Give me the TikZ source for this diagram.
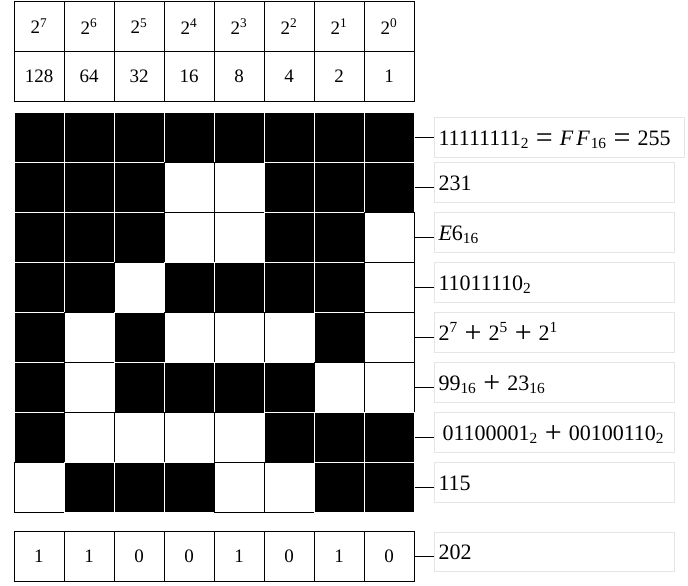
\documentclass[tikz,border=0pt]{standalone}
\usepackage{fontspec}
\setmainfont{Liberation Serif}

\newcommand\op[1]{\hspace{7pt}\raisebox{-2pt}{\fontsize{30}{30}\selectfont#1}\hspace{7pt}}

\tikzset{
	bit/.style={draw=black, fill=white, line width=1pt, minimum size=50pt, inner sep=0pt, font=\fontsize{19}{22}\selectfont},
	b0/.style={bit},
	b1/.style={bit, draw=white, fill=black},
	labbox/.style={draw=black!10, line width=1pt, anchor=north west, inner xsep=4pt, inner ysep=0pt, align=left, text height=15pt, text depth=0pt, font=\fontsize{22}{26}\selectfont},
	tick/.style={line width=1pt}
}

\begin{document}
\begin{tikzpicture}[x=1pt, y=-1pt]
			%%%%% START %%%%%
			\useasboundingbox (0, 0) rectangle (688, 586);
			
			% place values
			\foreach \c/\p/\v in {1/7/128, 2/6/64, 3/5/32, 4/4/16, 5/3/8, 6/2/4, 7/1/2, 8/0/1} {
				\node[bit] (pow-\c) at ({-11+50*\c}, 26.5) {2\textsuperscript{\p}};
				\node[bit] (val-\c) at ({-11+50*\c}, 76.5) {\v};
			}
			
			% the picture, one row per byte
			\foreach \r/\bits in {1/{1,1,1,1,1,1,1,1}, 2/{1,1,1,0,0,1,1,1}, 3/{1,1,1,0,0,1,1,0}, 4/{1,1,0,1,1,1,1,0},
				5/{1,0,1,0,0,0,1,0}, 6/{1,0,1,1,1,1,0,0}, 7/{1,0,0,0,0,1,1,1}, 8/{0,1,1,1,0,0,1,1}} {
				\foreach \b [count=\c] in \bits
					\node[b\b] (g-\r-\c) at ({-11+50*\c}, {87+50*\r}) {};
			}
			
			% what each row reads as
			\foreach \r/\y/\w/\t in {1/117/242/{11111111\textsubscript{2}\op{=}\textit{F\kern3pt F\kern1pt}\textsubscript{16}\op{=}255},
				2/162/232/{231},
				3/212/232/{\textit{E}6\textsubscript{16}},
				4/262/232/{11011110\textsubscript{2}},
				5/312/232/{2\textsuperscript{7}\op{+}2\textsuperscript{5}\op{+}2\textsuperscript{1}},
				6/362/232/{99\textsubscript{16}\op{+}23\textsubscript{16}},
				7/412/232/{\hspace{4pt}01100001\textsubscript{2}\op{+}00100110\textsubscript{2}},
				8/462/232/{115}} {
				\node[labbox, text width=\w pt, minimum height=40pt] (lab-\r) at (434, \y) {\t};
				\draw[tick] (g-\r-8.east) -- (g-\r-8.east -| lab-\r.west);
			}
			
			% last byte
			\foreach \b [count=\c] in {1,1,0,0,1,0,1,0}
				\node[bit] (last-\c) at ({-11+50*\c}, 556) {\b};
			\node[labbox, text width=232pt, minimum height=39pt] (lab-9) at (434, 532) {202};
			\draw[tick] (last-8.east) -- (last-8.east -| lab-9.west);
			
			%%%%% END %%%%%
\end{tikzpicture}
\end{document}
